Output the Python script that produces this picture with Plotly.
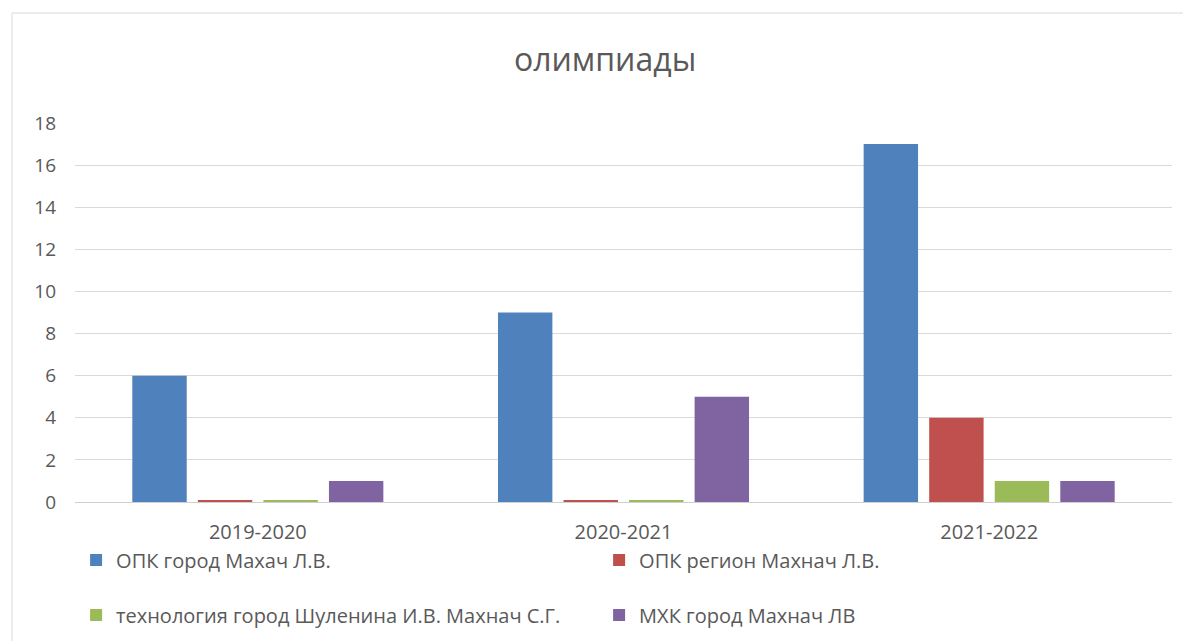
import plotly.graph_objects as go

categories = ["2019-2020", "2020-2021", "2021-2022"]
series_names = [
    "ОПК город Махач Л.В.",
    "ОПК регион Махнач Л.В.",
    "технология город Шуленина И.В. Махнач С.Г.",
    "МХК город Махнач ЛВ",
]
opk_city = [6, 9, 17]
opk_region = [0.1, 0.1, 4]
tech_city = [0.1, 0.1, 1]
mhk_city = [1, 5, 1]
colors = ["#4f81bd", "#c0504d", "#9bbb59", "#8064a2"]
y_ticks = [0, 2, 4, 6, 8, 10, 12, 14, 16, 18]

values = [opk_city, opk_region, tech_city, mhk_city]
legends = ["legend", "legend", "legend2", "legend2"]

FONT = "Open Sans"
TXT = "#595959"

fig = go.Figure()
for name, vals, col, lg in zip(series_names, values, colors, legends):
    fig.add_trace(go.Bar(
        x=categories, y=vals, name=name,
        marker=dict(color=col, line=dict(width=0)),
        legend=lg,
    ))

legend_common = dict(
    orientation="h", xanchor="left", yanchor="middle",
    font=dict(family=FONT, size=20, color=TXT),
    entrywidth=478, entrywidthmode="pixels",
    bgcolor="rgba(0,0,0,0)", itemclick=False, itemdoubleclick=False,
)

# page body has an 8px margin, so the figure is sized/offset to compensate
fig.update_layout(
    width=1183, height=633,
    margin=dict(l=67, r=19, t=115, b=139, autoexpand=False),
    paper_bgcolor="white", plot_bgcolor="white",
    title=dict(text="олимпиады", x=0.5047, xanchor="center", y=0.918, yanchor="middle",
               font=dict(family=FONT, size=32, color=TXT)),
    barmode="group", bargap=0.283, bargroupgap=0.17,
    showlegend=True,
    legend=dict(x=0.001, y=-0.153, **legend_common),
    legend2=dict(x=0.001, y=-0.298, **legend_common),
    font=dict(family=FONT, color=TXT),
    xaxis=dict(showgrid=False, showline=True, linecolor="#d0d0d0", linewidth=1,
               ticks="", tickfont=dict(family=FONT, size=20, color=TXT),
               ticklabelstandoff=12, fixedrange=True),
    yaxis=dict(range=[0, 18], tickvals=y_ticks, showgrid=True, gridcolor="#d9d9d9",
               gridwidth=1, zeroline=False, showline=False, ticks="",
               tickfont=dict(family=FONT, size=19, color=TXT),
               ticklabelstandoff=18, fixedrange=True),
    shapes=[dict(type="rect", xref="paper", yref="paper",
                 x0=(12 - 75) / 1097, x1=1.05, y0=-0.5, y1=(502 - 13) / 379,
                 line=dict(color="#d9d9d9", width=1), fillcolor="rgba(0,0,0,0)",
                 layer="below")],
)

fig.write_html("out.html")
